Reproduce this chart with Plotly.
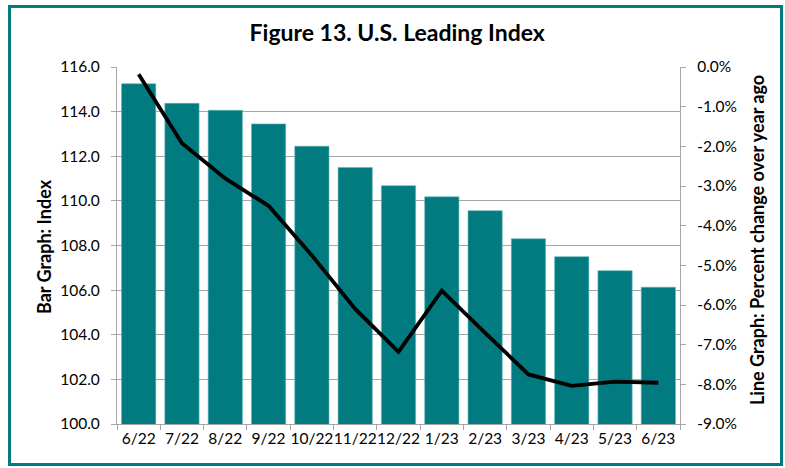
import plotly.graph_objects as go

categories = ["6/22", "7/22", "8/22", "9/22", "10/22", "11/22", "12/22",
              "1/23", "2/23", "3/23", "4/23", "5/23", "6/23"]
index_values = [115.25, 114.37, 114.06, 113.45, 112.45, 111.5, 110.68,
                110.18, 109.56, 108.3, 107.5, 106.87, 106.13]
pct_change = [-0.18, -1.92, -2.81, -3.5, -4.75, -6.1, -7.18,
              -5.64, -6.7, -7.75, -8.04, -7.93, -7.96]
left_ticks = [100, 102, 104, 106, 108, 110, 112, 114, 116]
right_ticks = [0, -1, -2, -3, -4, -5, -6, -7, -8, -9]

TEAL = "#017b7f"
GRID = "#a6a6a6"
FONT = "Lato, 'Open Sans', sans-serif"
NB = "\u00a0"

W, H = 785, 468
L, R, T, B = 117, 105, 67, 44
pw, ph = W - L - R, H - T - B

fig = go.Figure()
fig.add_trace(go.Bar(
    x=categories, y=index_values,
    marker=dict(color=TEAL, line=dict(color="#5fb3b5", width=0.6)),
    yaxis="y", showlegend=False,
))
fig.add_trace(go.Scatter(
    x=categories, y=pct_change, mode="lines",
    line=dict(color="black", width=3.8), yaxis="y2", showlegend=False,
))

def px_to_paper_x(px):
    return (px - L) / pw

def px_to_paper_y(py):
    return (H - B - py) / ph

fig.update_layout(
    width=W, height=H,
    margin=dict(l=L, r=R, t=T, b=B, autoexpand=False),
    plot_bgcolor="white", paper_bgcolor="white",
    font=dict(family=FONT, color="black", size=15),
    bargap=0.21,
    xaxis=dict(
        type="category", tickson="boundaries", ticks="outside", ticklen=5,
        tickcolor=GRID, showline=True, linecolor=GRID, linewidth=1.3,
        showgrid=False, tickfont=dict(size=15.5), tickangle=0, automargin=False,
    ),
    yaxis=dict(
        range=[100, 116], tickvals=left_ticks,
        ticktext=[f"{v:.1f}{NB}{NB}" for v in left_ticks],
        ticks="outside", ticklen=5, tickcolor=GRID,
        showline=True, linecolor=GRID, linewidth=1.3,
        showgrid=True, gridcolor=GRID, gridwidth=1.3,
        zeroline=False, tickfont=dict(size=15.5), automargin=False,
    ),
    yaxis2=dict(
        range=[-9, 0], overlaying="y", side="right",
        tickvals=right_ticks, ticktext=[f"{NB}{NB}{v:.1f}%" for v in right_ticks],
        ticks="outside", ticklen=5, tickcolor=GRID,
        showline=True, linecolor=GRID, linewidth=1.3,
        showgrid=False, zeroline=False, tickfont=dict(size=15.5), automargin=False,
    ),
    title=dict(text="<b>Figure 13. U.S. Leading Index</b>",
               x=0.506, xanchor="center", y=1 - 33 / H, yanchor="middle",
               font=dict(size=23, family=FONT), automargin=False),
    annotations=[
        dict(text="<b>Bar Graph: Index</b>", textangle=-90,
             xref="paper", yref="paper", x=px_to_paper_x(44), y=px_to_paper_y(247),
             xanchor="center", yanchor="middle", showarrow=False,
             font=dict(size=18, family=FONT, weight="bold")),
        dict(text="<b>Line Graph: Percent change over year ago</b>", textangle=-90,
             xref="paper", yref="paper", x=px_to_paper_x(757), y=px_to_paper_y(240),
             xanchor="center", yanchor="middle", showarrow=False,
             font=dict(size=18, family=FONT, weight="bold")),
    ],
    shapes=[dict(
        type="rect", xref="paper", yref="paper",
        x0=px_to_paper_x(9.5), x1=px_to_paper_x(781.5),
        y0=px_to_paper_y(464.5), y1=px_to_paper_y(6.5),
        line=dict(color=TEAL, width=3), fillcolor="rgba(0,0,0,0)", layer="above",
    )],
)

fig.write_html(
    "out.html",
    config={"displayModeBar": False},
    post_script="document.body.style.margin='0';document.body.style.overflow='hidden';",
)
